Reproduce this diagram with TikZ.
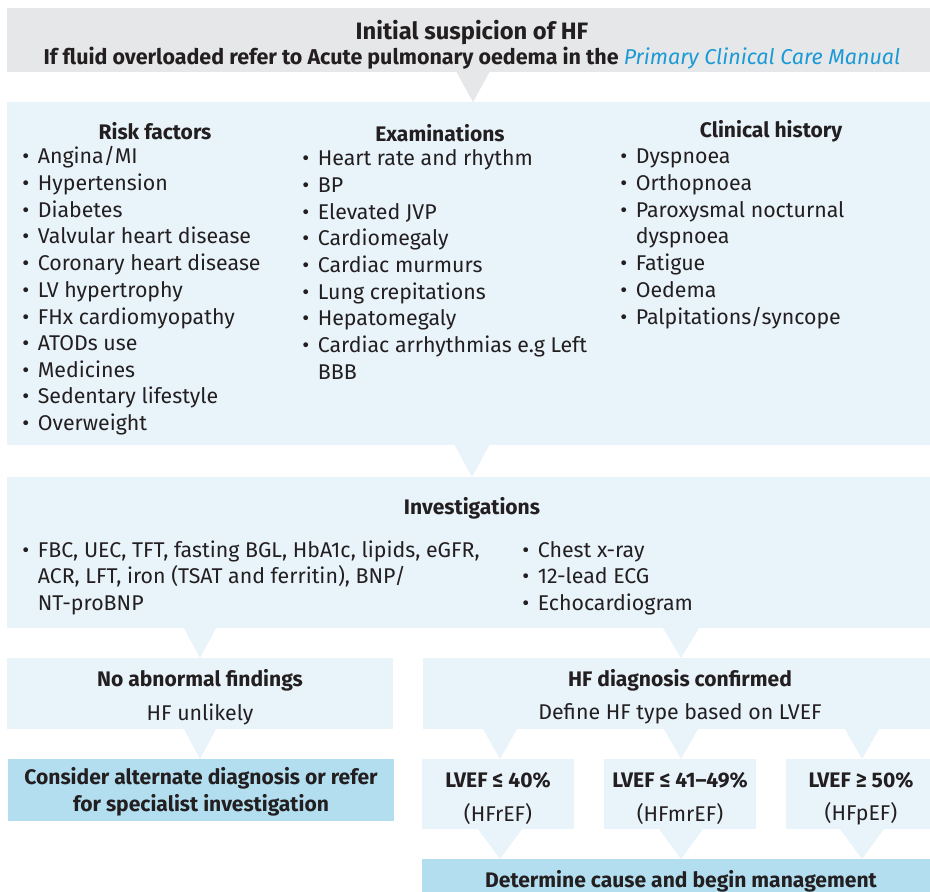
\documentclass[tikz,border=0pt]{standalone}
\usepackage{fontspec}
\setmainfont{Fira Sans}
\usepackage{xcolor}
\definecolor{hfgrey}{HTML}{E6E7E8}
\definecolor{hfpale}{HTML}{E8F3FA}
\definecolor{hfblue}{HTML}{B3DEF0}
\definecolor{hflink}{HTML}{1A9AD6}
\definecolor{hftext}{HTML}{231F20}
\usetikzlibrary{calc,fit}

% downward pointer between two boxes: from, to, x, half width, colour
\newcommand\notch[5]{%
  \path (#3,0) coordinate (nx);
  \fill[#5] ($(#1.south -| nx)+(-#4,0)$) -- ($(#1.south -| nx)+(#4,0)$)
    -- (#2.north -| nx) -- cycle;}

\begin{document}
\begin{tikzpicture}[x=0.75pt,y=-0.75pt,
    box/.style={inner sep=0pt,outer sep=0pt},
    hd/.style={font=\fontsize{15.8}{19}\selectfont\bfseries,text=hftext},
    txt/.style={font=\fontsize{16}{19}\selectfont,text=hftext},
    lst/.style={inner sep=0pt,anchor=base west,font=\fontsize{16}{20}\selectfont,text=hftext}]
  \useasboundingbox (0,0) rectangle (930,891);

  % boxes
  \node[box,fill=hfgrey,fit={(7,8) (930,72)}] (head) {};
  \node[box,fill=hfpale,fit={(7,102) (930,445)}] (main) {};
  \node[box,fill=hfpale,fit={(7,477) (930,628)}] (inv) {};
  \node[box,fill=hfpale,fit={(7,658) (393,729)}] (noab) {};
  \node[box,fill=hfpale,fit={(423,658) (930,729)}] (conf) {};
  \node[box,fill=hfblue,fit={(8,759) (394,821)}] (alt) {};
  \node[box,fill=hfpale,fit={(422,759) (574,829)}] (red) {};
  \node[box,fill=hfpale,fit={(604,759) (756,829)}] (mid) {};
  \node[box,fill=hfpale,fit={(786,759) (930,829)}] (pres) {};
  \node[box,fill=hfblue,fit={(422,859) (930,900)}] (mgmt) {};

  % pointers
  \notch{head}{main}{473}{16.5}{hfgrey}
  \notch{main}{inv}{472}{17.5}{hfpale}
  \notch{inv}{noab}{200}{16}{hfpale}
  \notch{inv}{conf}{681}{18}{hfpale}
  \notch{noab}{alt}{200}{16}{hfpale}
  \foreach \n/\x in {red/500,mid/681,pres/862} {
    \notch{conf}{\n}{\x}{17}{hfpale}
    \notch{\n}{mgmt}{\x}{22}{hfpale}
  }

  % header
  \node[hd,font=\fontsize{17.8}{21}\selectfont\bfseries] (t1) at (472,33) {Initial suspicion of HF};
  \node[hd,font=\fontsize{16.1}{19}\selectfont\bfseries] (t2) at (472,58) {If fluid overloaded refer to Acute pulmonary oedema in the
    \textcolor{hflink}{\mdseries\itshape Primary Clinical Care Manual}};

  % three columns
  \node[hd] (rfh) at (155,131) {Risk factors};
  \node[hd] (exh) at (440,133) {Examinations};
  \node[hd] (chh) at (771,131) {Clinical history};
  \node[lst] (rfl) at (22,164) {\begin{tabular}[t]{@{}l@{\hspace{6.5pt}}l@{}}
    \textbullet & Angina/MI\\ \textbullet & Hypertension\\ \textbullet & Diabetes\\
    \textbullet & Valvular heart disease\\ \textbullet & Coronary heart disease\\
    \textbullet & LV hypertrophy\\ \textbullet & FHx cardiomyopathy\\
    \textbullet & ATODs use\\ \textbullet & Medicines\\
    \textbullet & Sedentary lifestyle\\ \textbullet & Overweight
  \end{tabular}};
  \node[lst] (exl) at (302,166) {\begin{tabular}[t]{@{}l@{\hspace{6.5pt}}l@{}}
    \textbullet & Heart rate and rhythm\\ \textbullet & BP\\ \textbullet & Elevated JVP\\
    \textbullet & Cardiomegaly\\ \textbullet & Cardiac murmurs\\
    \textbullet & Lung crepitations\\ \textbullet & Hepatomegaly\\
    \textbullet & Cardiac arrhythmias e.g Left\\ & BBB
  \end{tabular}};
  \node[lst] (chl) at (620,164) {\begin{tabular}[t]{@{}l@{\hspace{6.5pt}}l@{}}
    \textbullet & Dyspnoea\\ \textbullet & Orthopnoea\\
    \textbullet & Paroxysmal nocturnal\\ & dyspnoea\\
    \textbullet & Fatigue\\ \textbullet & Oedema\\ \textbullet & Palpitations/syncope
  \end{tabular}};

  % investigations
  \node[hd] (invh) at (472,508) {Investigations};
  \node[lst] (invl) at (22,557) {\begin{tabular}[t]{@{}l@{\hspace{6.5pt}}l@{}}
    \textbullet & FBC, UEC, TFT, fasting BGL, HbA1c, lipids, eGFR,\\
    & ACR, LFT, iron (TSAT and ferritin), BNP/\\ & NT-proBNP
  \end{tabular}};
  \node[lst] (invr) at (522,557) {\begin{tabular}[t]{@{}l@{\hspace{6.5pt}}l@{}}
    \textbullet & Chest x-ray\\ \textbullet & 12-lead ECG\\ \textbullet & Echocardiogram
  \end{tabular}};

  % outcomes
  \node[hd] (noabh) at (200,680) {No abnormal findings};
  \node[txt] (noabt) at (200,714) {HF unlikely};
  \node[hd] (confh) at (680,680) {HF diagnosis confirmed};
  \node[txt] (conft) at (680,714) {Define HF type based on LVEF};
  \node[hd,align=center,font=\fontsize{15.8}{20}\selectfont\bfseries] (altt) at (201,792) {Consider alternate diagnosis or refer\\for specialist investigation};
  \foreach \n/\x/\a/\b in {red/498/{LVEF ≤ 40\%}/{(HFrEF)},
      mid/680/{LVEF ≤ 41–49\%}/{(HFmrEF)}, pres/861/{LVEF ≥ 50\%}/{(HFpEF)}} {
    \node[hd] (\n h) at (\x,780) {\a};
    \node[txt] (\n t) at (\x,814) {\b};
  }
  \node[hd] (mgmtt) at (681,881) {Determine cause and begin management};
\end{tikzpicture}
\end{document}
